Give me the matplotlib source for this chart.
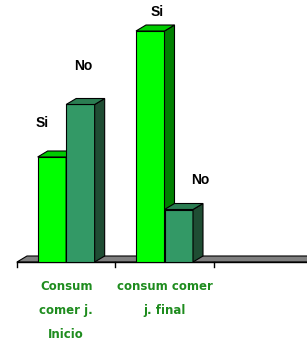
import matplotlib.pyplot as plt
from matplotlib.patches import Polygon

# data
categories = ['Consum\ncomer j.\nInicio', 'consum comer\nj. final', '']
series = ['Si', 'No']
si_values = [10, 22]
no_values = [15, 5]

front_colors = {'Si': '#00FF00', 'No': '#339966'}
top_colors = {'Si': '#00CC00', 'No': '#2B7D52'}
side_colors = {'Si': '#008000', 'No': '#1F4D33'}

fig = plt.figure(figsize=(3.07, 3.45), dpi=100)
# axes in pixels: x from 17 to 312, baseline at 262 from top
ax = fig.add_axes([17 / 307, 83 / 345, 295 / 307, 262.5 / 345])
ax.set_xlim(0, 3)
ax.set_ylim(0, 25)
ax.axis('off')

# depth of the 3d effect, pixels -> data units
px_x = 3 / 295
px_y = 25 / 262.5
dx = 10 * px_x
dy = 6 * px_y

# floor
n_cat = len(categories)
floor = Polygon([(0, 0), (n_cat + 1, 0), (n_cat + 1 + dx, dy), (dx, dy)],
                closed=True, facecolor='#808080', edgecolor='black', lw=0.8,
                zorder=1, clip_on=False)
ax.add_patch(floor)
ax.plot([0, n_cat + 1], [0, 0], color='black', lw=1, zorder=2, clip_on=False)
for i in range(n_cat + 1):
    ax.plot([i, i], [0, -5 * px_y], color='black', lw=1, clip_on=False)

w = 28.5 * px_x
# label offsets in pixels (x shift, gap above bar)
label_offsets = {(0, 'Si'): (-10, 34), (0, 'No'): (2.5, 38),
                 (1, 'Si'): (7, 19), (1, 'No'): (21, 30)}

z = 3
for i in range(2):
    vals = {'Si': si_values[i], 'No': no_values[i]}
    for j, s in enumerate(series):
        x0 = i + 0.5 - w + j * w
        h = vals[s]
        ax.bar(x0, h, width=w, align='edge', color=front_colors[s],
               edgecolor='black', lw=0.8, zorder=z)
        side = Polygon([(x0 + w, 0), (x0 + w + dx, dy), (x0 + w + dx, h + dy), (x0 + w, h)],
                       closed=True, facecolor=side_colors[s], edgecolor='black', lw=0.8, zorder=z)
        top = Polygon([(x0, h), (x0 + dx, h + dy), (x0 + w + dx, h + dy), (x0 + w, h)],
                      closed=True, facecolor=top_colors[s], edgecolor='black', lw=0.8, zorder=z)
        ax.add_patch(side)
        ax.add_patch(top)
        z += 1
        ox, oy = label_offsets[(i, s)]
        ax.annotate(s, (x0 + w / 2, h), xytext=(ox, oy),
                    textcoords='offset pixels', ha='center', va='center',
                    fontsize=10, fontweight='bold', family='Liberation Sans', zorder=20)

for i, c in enumerate(categories):
    ax.text(i + 0.5, -18 * px_y, c, ha='center', va='top', fontsize=8.5,
            fontweight='bold', color='#1E8C1E', linespacing=2.1, family='DejaVu Sans')

fig.savefig('out.png', dpi=100)
